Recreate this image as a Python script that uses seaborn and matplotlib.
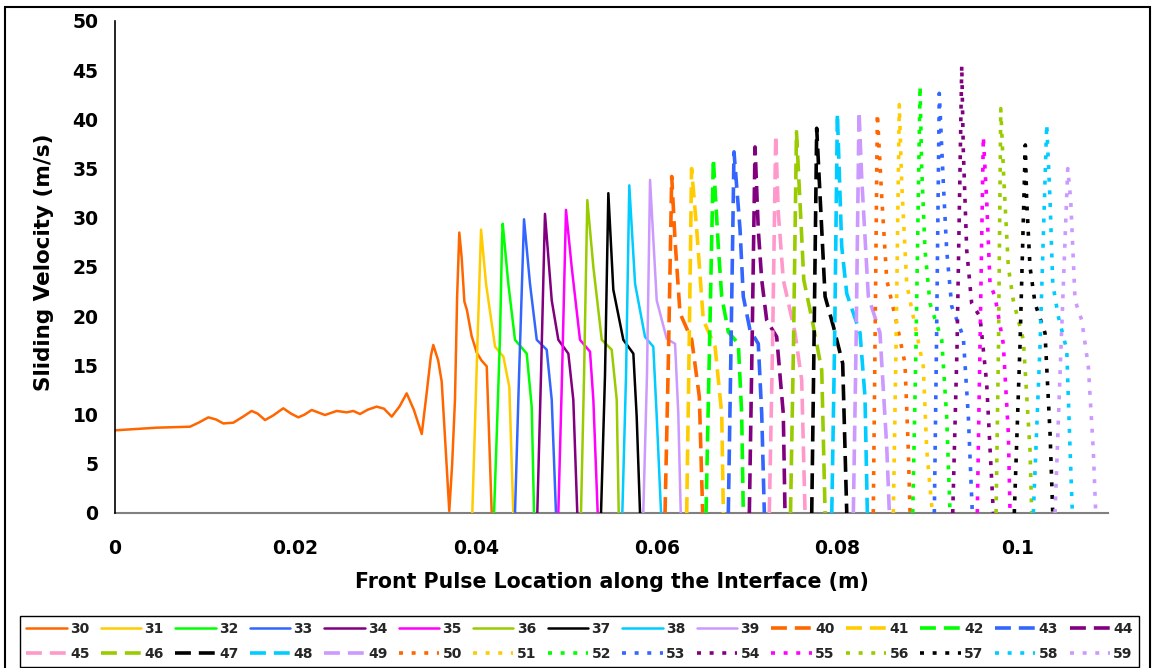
import matplotlib
matplotlib.use("Agg")
import matplotlib.pyplot as plt
from matplotlib.lines import Line2D
from matplotlib.patches import Rectangle
from matplotlib.ticker import FuncFormatter
import seaborn as sns
import pandas as pd

# ---------------- data ----------------
x30 = [0.0, 0.00462, 0.00831, 0.0093, 0.01034, 0.0112, 0.0120, 0.01311, 0.0142, 0.01514, 0.0158,
       0.01662, 0.0175, 0.01864, 0.0195, 0.02031, 0.0210, 0.02179, 0.02326, 0.02456, 0.02567,
       0.0264, 0.02714, 0.0280, 0.02899, 0.0298, 0.03065, 0.0315, 0.03231, 0.0331, 0.03398,
       0.0345, 0.0350, 0.03526, 0.0358, 0.03619, 0.0366, 0.03703, 0.03735, 0.03766, 0.0379,
       0.03814, 0.0384, 0.0387, 0.03899, 0.0395, 0.04007, 0.0406, 0.04118, 0.0414, 0.04173]
y30 = [8.4, 8.67, 8.77, 9.2, 9.72, 9.5, 9.1, 9.18, 9.8, 10.37, 10.1,
       9.45, 9.9, 10.64, 10.1, 9.72, 10.0, 10.47, 9.96, 10.37, 10.23,
       10.37, 10.06, 10.5, 10.81, 10.6, 9.79, 10.8, 12.16, 10.5, 8.03,
       12.0, 16.0, 17.07, 15.5, 13.35, 7.0, 0.2, 5.0, 11.5, 22.0,
       28.5, 26.0, 21.5, 20.6, 18.0, 16.3, 15.5, 14.9, 9.0, 0.0]

x31 = [0.03958, 0.04007, 0.04055, 0.0411, 0.0421, 0.04302, 0.04368, 0.04412]
y31 = [0.0, 14.9, 28.8, 23.3, 16.9, 15.9, 12.8, 0.0]
x32 = [0.04199, 0.04229, 0.04265, 0.04288, 0.04295, 0.04357, 0.04431, 0.04561, 0.04616, 0.04642]
y32 = [0.0, 8.0, 18.0, 28.0, 29.4, 23.3, 17.6, 16.2, 10.8, 0.0]
x33 = [0.04431, 0.04476, 0.04531, 0.04597, 0.04672, 0.04782, 0.04838, 0.04885]
y33 = [0.0, 14.0, 29.85, 23.3, 17.6, 16.6, 11.5, 0.0]
x34 = [0.04678, 0.04719, 0.04763, 0.04838, 0.04911, 0.05022, 0.05077, 0.05121]
y34 = [0.0, 14.0, 30.4, 21.6, 17.6, 16.2, 11.5, 0.0]
x35 = [0.04911, 0.04952, 0.04996, 0.05059, 0.05151, 0.05262, 0.05299, 0.05347]
y35 = [0.0, 14.0, 30.8, 25.0, 17.6, 16.4, 11.5, 0.0]
x36 = [0.05162, 0.05196, 0.05232, 0.05299, 0.05392, 0.05502, 0.05558, 0.0558]
y36 = [0.0, 14.0, 31.8, 25.0, 17.6, 16.6, 11.5, 0.0]
x37 = [0.05384, 0.05428, 0.05465, 0.0552, 0.05631, 0.05742, 0.05779, 0.05816]
y37 = [0.0, 14.0, 32.5, 22.7, 17.6, 16.2, 9.8, 0.0]
x38 = [0.0562, 0.05661, 0.05697, 0.05761, 0.05871, 0.05963, 0.06001, 0.06049]
y38 = [0.0, 14.0, 33.3, 23.3, 17.9, 16.9, 9.8, 0.0]
x39 = [0.05852, 0.05893, 0.05927, 0.06001, 0.06112, 0.06204, 0.0624, 0.06267]
y39 = [0.0, 14.0, 33.85, 21.6, 17.7, 17.2, 10.1, 0.0]

x40 = [0.06093, 0.06131, 0.06167, 0.06204, 0.06259, 0.06389, 0.06473, 0.0651]
y40 = [0.0, 16.0, 34.2, 27.7, 20.3, 17.6, 11.8, 0.0]
x41 = [0.06333, 0.06359, 0.06387, 0.06444, 0.06517, 0.06647, 0.06721, 0.06739]
y41 = [0.0, 16.0, 35.0, 28.8, 19.6, 16.9, 10.1, 0.0]
x42 = [0.06547, 0.06586, 0.06628, 0.06683, 0.06721, 0.06794, 0.06905, 0.06942, 0.0696]
y42 = [0.0, 17.0, 36.0, 27.1, 22.0, 18.4, 17.2, 10.1, 0.0]
x43 = [0.06794, 0.06824, 0.06857, 0.06924, 0.0696, 0.07034, 0.07126, 0.07164, 0.07193]
y43 = [0.0, 17.0, 36.7, 28.8, 22.0, 18.6, 17.2, 10.1, 0.0]
x44 = [0.07027, 0.07057, 0.0709, 0.07126, 0.07164, 0.07219, 0.0733, 0.07403, 0.07422]
y44 = [0.0, 17.0, 37.2, 28.8, 23.7, 19.6, 17.9, 10.1, 0.0]
x45 = [0.07248, 0.07284, 0.07319, 0.07348, 0.07403, 0.07533, 0.07607, 0.07644]
y45 = [0.0, 17.0, 38.4, 30.5, 23.7, 18.3, 13.5, 0.0]
x46 = [0.07483, 0.07516, 0.07549, 0.07594, 0.0763, 0.07736, 0.07829, 0.07866]
y46 = [0.0, 17.0, 38.75, 30.5, 23.7, 19.0, 14.5, 0.0]
x47 = [0.07718, 0.07743, 0.07773, 0.07829, 0.07866, 0.07957, 0.08061, 0.08106]
y47 = [0.0, 17.0, 39.1, 28.8, 22.0, 19.0, 15.2, 0.0]
x48 = [0.0794, 0.07971, 0.08002, 0.0805, 0.08106, 0.08253, 0.08308, 0.08334]
y48 = [0.0, 17.0, 40.6, 27.1, 22.3, 18.3, 11.8, 0.0]
x49 = [0.08179, 0.08209, 0.08242, 0.08272, 0.08345, 0.08474, 0.08549, 0.08578]
y49 = [0.0, 17.0, 40.8, 34.0, 22.0, 18.3, 6.7, 0.0]

x50 = [0.084, 0.08419, 0.08445, 0.08493, 0.08549, 0.08659, 0.08751, 0.08788, 0.08807]
y50 = [0.0, 17.0, 40.6, 32.2, 23.7, 19.3, 15.2, 6.4, 0.0]
x51 = [0.08622, 0.08652, 0.08688, 0.08715, 0.0877, 0.08843, 0.08954, 0.08992, 0.09054]
y51 = [0.0, 17.0, 41.5, 33.5, 23.3, 19.95, 14.9, 6.4, 0.0]
x52 = [0.08837, 0.08873, 0.08918, 0.08936, 0.08973, 0.09028, 0.09158, 0.09213, 0.0925]
y52 = [0.0, 17.0, 43.4, 35.2, 26.7, 21.3, 17.6, 9.8, 0.0]
x53 = [0.09076, 0.091, 0.09131, 0.09176, 0.09213, 0.09269, 0.09397, 0.09453, 0.09497]
y53 = [0.0, 17.0, 42.65, 33.5, 26.7, 21.0, 17.9, 9.8, 0.0]
x54 = [0.0928, 0.09328, 0.0938, 0.09397, 0.09435, 0.0949, 0.09582, 0.09656, 0.0973]
y54 = [0.0, 17.0, 45.5, 36.9, 26.7, 21.3, 19.95, 13.2, 0.0]
x55 = [0.09552, 0.09582, 0.09619, 0.09656, 0.09693, 0.09748, 0.0984, 0.09896, 0.09915]
y55 = [0.0, 17.0, 38.25, 31.8, 23.3, 22.0, 17.2, 8.1, 0.0]
x56 = [0.0976, 0.09787, 0.09812, 0.09848, 0.09896, 0.09951, 0.10062, 0.10136, 0.10155]
y56 = [0.0, 17.0, 41.1, 33.5, 25.0, 21.6, 17.6, 6.4, 0.0]
x57 = [0.09962, 0.10025, 0.10084, 0.10099, 0.10136, 0.10192, 0.10302, 0.10358, 0.10388]
y57 = [0.0, 17.0, 37.4, 31.8, 25.0, 21.3, 18.3, 8.1, 0.0]
x58 = [0.10173, 0.10247, 0.10321, 0.10358, 0.10388, 0.1045, 0.10543, 0.1058, 0.10605]
y58 = [0.0, 17.0, 39.5, 31.8, 23.3, 19.95, 16.6, 6.4, 0.0]
x59 = [0.10413, 0.1048, 0.10554, 0.10587, 0.10635, 0.10709, 0.10782, 0.10837, 0.10864]
y59 = [0.0, 17.0, 35.0, 31.8, 21.6, 19.6, 14.9, 6.4, 0.0]

series_names = [str(n) for n in range(30, 60)]
series_x = [x30, x31, x32, x33, x34, x35, x36, x37, x38, x39,
            x40, x41, x42, x43, x44, x45, x46, x47, x48, x49,
            x50, x51, x52, x53, x54, x55, x56, x57, x58, x59]
series_y = [y30, y31, y32, y33, y34, y35, y36, y37, y38, y39,
            y40, y41, y42, y43, y44, y45, y46, y47, y48, y49,
            y50, y51, y52, y53, y54, y55, y56, y57, y58, y59]

x_ticks = [0, 0.02, 0.04, 0.06, 0.08, 0.1]
y_ticks = [0, 5, 10, 15, 20, 25, 30, 35, 40, 45, 50]

# ---------------- styles ----------------
base_colors = ["#FF6600", "#FFCC00", "#00FF00", "#3366FF", "#800080",
               "#FF00FF", "#99CC00", "#000000", "#00CCFF", "#CC99FF"]
colors = []
for g in range(3):
    for k, c in enumerate(base_colors):
        if g == 1 and k == 5:
            c = "#FF99CC"
        colors.append(c)

solid_style = dict(linestyle="-", linewidth=1.8)
dash_style = dict(linestyle=(0, (4.4, 2.2)), linewidth=2.6)
dot_style = dict(linestyle=(0, (1.1, 2.4)), linewidth=2.6)
styles = [solid_style] * 10 + [dash_style] * 10 + [dot_style] * 10

frames = []
for name, xs, ys in zip(series_names, series_x, series_y):
    frames.append(pd.DataFrame({"x": xs, "y": ys, "series": name}))
df = pd.concat(frames, ignore_index=True)

# ---------------- figure ----------------
sns.set_theme(style="white")
plt.rcParams["font.family"] = ["DejaVu Sans"]
plt.rcParams["font.weight"] = "bold"

fig = plt.figure(figsize=(11.55, 6.68), dpi=100)
ax = fig.add_axes([115 / 1155, 1 - 513 / 668, (1108 - 115) / 1155, (513 - 21) / 668])

handles = []
for i, name in enumerate(series_names):
    sub = df[df["series"] == name]
    st = styles[i]
    sns.lineplot(data=sub, x="x", y="y", ax=ax, color=colors[i], sort=False,
                 estimator=None, legend=False, linewidth=st["linewidth"],
                 linestyle=st["linestyle"], dash_capstyle="butt",
                 solid_capstyle="butt", solid_joinstyle="round")
    handles.append(Line2D([], [], color=colors[i], linewidth=st["linewidth"],
                          linestyle=st["linestyle"], dash_capstyle="butt"))

ax.set_xlim(0, 0.11)
ax.set_ylim(0, 50)
ax.set_xticks(x_ticks)
ax.set_yticks(y_ticks)
ax.xaxis.set_major_formatter(FuncFormatter(lambda v, p: f"{v:g}"))
ax.yaxis.set_major_formatter(FuncFormatter(lambda v, p: f"{v:g}"))

for s in ["top", "right"]:
    ax.spines[s].set_visible(False)
ax.spines["left"].set_color("black")
ax.spines["left"].set_linewidth(1.2)
ax.spines["bottom"].set_color("#808080")
ax.spines["bottom"].set_linewidth(1.5)
ax.spines["bottom"].set_zorder(0)

ax.tick_params(axis="both", which="major", direction="out", length=5, width=1.2,
               color="#808080", labelsize=13.5, labelcolor="black")
ax.tick_params(axis="x", pad=14)
ax.tick_params(axis="y", pad=7)
for lab in ax.get_xticklabels() + ax.get_yticklabels():
    lab.set_fontweight("bold")

ax.set_xlabel("Front Pulse Location along the Interface (m)", fontsize=14.8,
              fontweight="bold", color="black")
ax.set_ylabel("Sliding Velocity (m/s)", fontsize=15.5, fontweight="bold", color="black")
ax.xaxis.set_label_coords(0.5, -0.12)
ax.yaxis.set_label_coords(-0.061, 0.51)
ax.grid(False)

# legend in row-major order (matplotlib fills columns first)
order = []
for j in range(15):
    order += [j, j + 15]
leg = fig.legend([handles[i] for i in order], [series_names[i] for i in order],
                 ncol=15, loc="lower left",
                 bbox_to_anchor=(20 / 1155, 1 / 668, (1139 - 20) / 1155, 54 / 668),
                 mode="expand", fontsize=10, frameon=True, fancybox=False,
                 edgecolor="black", framealpha=1, handlelength=2.9,
                 handletextpad=0.25, columnspacing=0.6, labelspacing=0.75,
                 borderpad=0.45, borderaxespad=0)
leg.get_frame().set_linewidth(1.0)
for t in leg.get_texts():
    t.set_fontweight("bold")

# outer chart-area border
fig.patches.append(Rectangle((5 / 1155, -0.02), (1150 - 5) / 1155, (668 - 7) / 668 + 0.02,
                             transform=fig.transFigure, fill=False,
                             edgecolor="black", linewidth=1.5))

fig.savefig("out.png", dpi=100, facecolor="white")
